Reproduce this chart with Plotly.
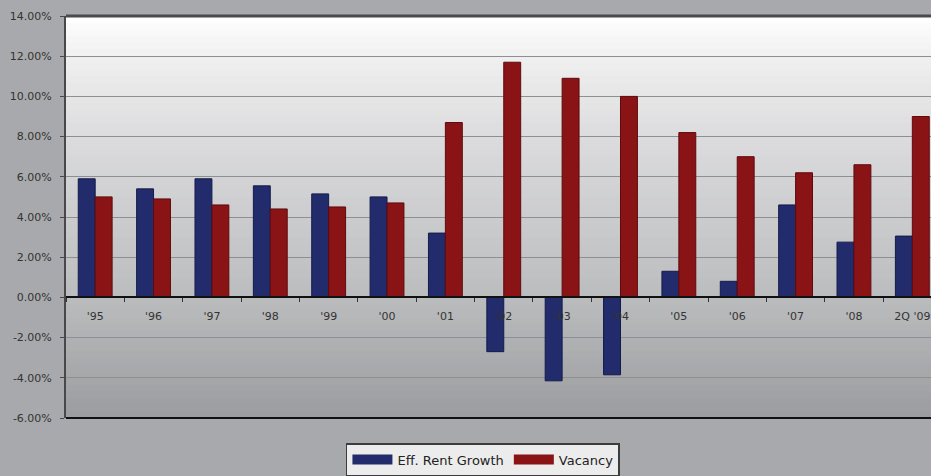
import plotly.graph_objects as go

categories = ["'95", "'96", "'97", "'98", "'99", "'00", "'01", "'02", "'03", "'04",
              "'05", "'06", "'07", "'08", "2Q '09"]
rent_growth = [5.9, 5.4, 5.9, 5.55, 5.15, 5.0, 3.2, -2.7, -4.15, -3.85, 1.3, 0.8, 4.6, 2.75, 3.05]
vacancy = [5.0, 4.9, 4.6, 4.4, 4.5, 4.7, 8.7, 11.7, 10.9, 10.0, 8.2, 7.0, 6.2, 6.6, 9.0]
series_names = ["Eff. Rent Growth", "Vacancy"]
y_ticks = [-6, -4, -2, 0, 2, 4, 6, 8, 10, 12, 14]

BLUE = "#222c6c"
RED = "#8a1316"
FONT = "DejaVu Sans"

fig = go.Figure()
fig.add_bar(x=categories, y=rent_growth, name=series_names[0], marker_color=BLUE,
            marker_line=dict(color="#141b4a", width=1), showlegend=False)
fig.add_bar(x=categories, y=vacancy, name=series_names[1], marker_color=RED,
            marker_line=dict(color="#5e0b0d", width=1), showlegend=False)
# legend entries with wide swatches
fig.add_scatter(x=[None], y=[None], mode="lines", name=series_names[0],
                line=dict(color=BLUE, width=10))
fig.add_scatter(x=[None], y=[None], mode="lines", name=series_names[1],
                line=dict(color=RED, width=10))

# vertical gradient background for the plot area
stops = [(0.0, (0x9b, 0x9c, 0x9f)), (0.3, (0xbb, 0xbc, 0xbe)), (0.7, (0xdc, 0xdc, 0xde)),
         (0.9, (0xf0, 0xf0, 0xf0)), (1.0, (0xff, 0xff, 0xff))]

def col_at(t):
    for (t0, c0), (t1, c1) in zip(stops[:-1], stops[1:]):
        if t0 <= t <= t1:
            f = (t - t0) / (t1 - t0)
            return "rgb(%d,%d,%d)" % tuple(round(a + (b - a) * f) for a, b in zip(c0, c1))
    return "rgb(255,255,255)"

shapes = []
N = 60
for i in range(N):
    y0 = i / N
    y1 = min(1.0, (i + 1) / N + 0.6 / N)
    shapes.append(dict(type="rect", xref="paper", yref="paper", x0=0, x1=1, y0=y0, y1=y1,
                       fillcolor=col_at((i + 0.5) / N), line=dict(width=0), layer="below"))
# frame lines
shapes.append(dict(type="line", xref="paper", yref="paper", x0=0, x1=1, y0=1, y1=1,
                   line=dict(color="#4a4a4c", width=3)))
shapes.append(dict(type="line", xref="paper", yref="paper", x0=0, x1=1, y0=0, y1=0,
                   line=dict(color="#111111", width=2)))

fig.update_layout(
    width=931, height=476,
    margin=dict(l=66, r=0, t=16, b=57),
    paper_bgcolor="#a8a9ac",
    plot_bgcolor="#c8c9cb",
    barmode="group", bargap=0.42, bargroupgap=0,
    font=dict(family=FONT, color="#2a2a2a", size=11),
    shapes=shapes,
    showlegend=True,
    legend=dict(orientation="h", x=0.482, xanchor="center", y=-0.062, yanchor="top",
                bgcolor="#ececec", bordercolor="#3c3c3c", borderwidth=1.5,
                font=dict(family=FONT, size=13, color="#222222"),
                itemwidth=40, tracegroupgap=0),
    xaxis=dict(type="category", range=[-0.5, 14.32], anchor="free", position=0.3,
               showline=True, linecolor="#111111", linewidth=2,
               ticks="outside", tickson="boundaries", ticklen=4, tickcolor="#333333",
               tickwidth=1, showgrid=False, ticklabelstandoff=8,
               tickfont=dict(family=FONT, size=11, color="#333333")),
    yaxis=dict(range=[-6, 14], tickvals=y_ticks, ticktext=["%.2f%%" % v for v in y_ticks],
               showline=True, linecolor="#48484a", linewidth=2,
               ticks="outside", ticklen=4, tickcolor="#48484a",
               showgrid=True, gridcolor="#8e8f92", gridwidth=1, zeroline=False,
               ticklabelstandoff=6,
               tickfont=dict(family=FONT, size=11, color="#333333")),
)

fig.write_html("out.html")
